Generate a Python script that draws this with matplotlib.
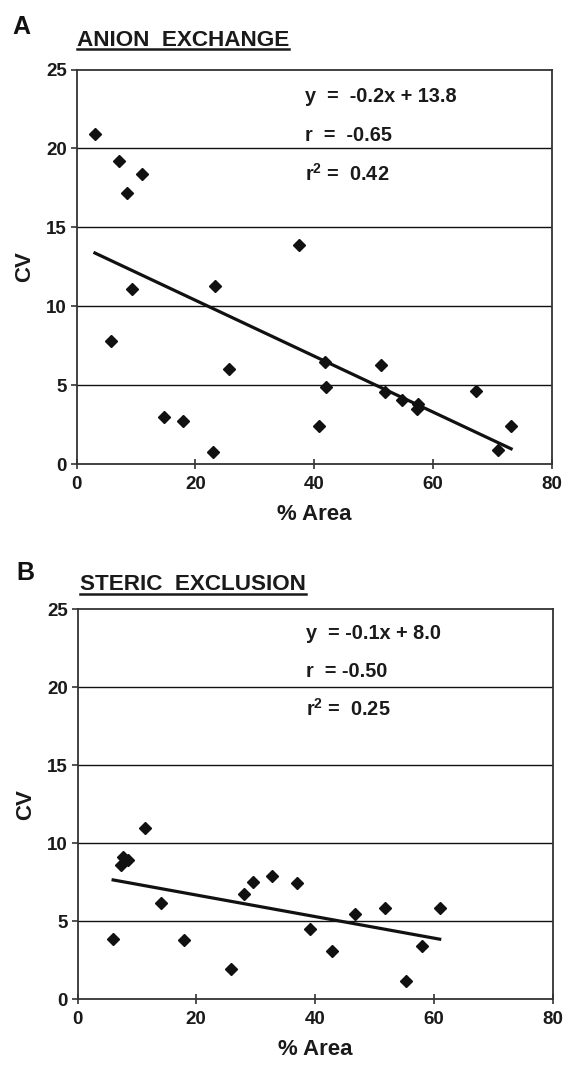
import numpy as np
import matplotlib
matplotlib.use("Agg")
import matplotlib.pyplot as plt
from matplotlib.lines import Line2D

plt.rcParams['font.family'] = ['Liberation Sans', 'DejaVu Sans']
plt.rcParams['mathtext.fontset'] = 'custom'
plt.rcParams['mathtext.rm'] = 'Liberation Sans'
plt.rcParams['mathtext.bf'] = 'Liberation Sans:bold'

# ---- data: panel A (anion exchange) ----
a_area = [3.1, 7.1, 8.5, 11.1, 9.3, 5.8, 23.4, 25.7, 14.7, 18.0, 23.0, 37.4,
          41.9, 42.1, 40.8, 51.3, 52.0, 54.9, 57.5, 57.4, 67.2, 71.0, 73.2]
a_cv = [20.9, 19.2, 17.2, 18.4, 11.1, 7.8, 11.3, 6.0, 3.0, 2.7, 0.75, 13.9,
        6.45, 4.85, 2.4, 6.25, 4.55, 4.05, 3.8, 3.5, 4.65, 0.9, 2.4]
a_fit = (-0.177, 13.92)          # slope, intercept of drawn trend line
a_title = "ANION  EXCHANGE"
a_stats = ["y  =  -0.2x + 13.8", "r  =  -0.65", r"r$^{\mathbf{2}}$ =  0.42"]

# ---- data: panel B (steric exclusion) ----
b_area = [11.4, 7.7, 8.5, 7.4, 14.1, 6.0, 18.0, 25.9, 28.0, 29.5, 32.8, 36.9,
          39.2, 42.8, 46.7, 51.8, 55.4, 58.1, 61.0]
b_cv = [11.0, 9.1, 8.9, 8.6, 6.2, 3.85, 3.8, 1.95, 6.75, 7.5, 7.9, 7.45,
        4.5, 3.1, 5.45, 5.85, 1.15, 3.4, 5.85]
b_fit = (-0.069, 8.06)
b_title = "STERIC  EXCLUSION"
b_stats = ["y  = -0.1x + 8.0", "r  = -0.50", r"r$^{\mathbf{2}}$ =  0.25"]

x_ticks = [0, 20, 40, 60, 80]
y_ticks = [0, 5, 10, 15, 20, 25]

W, H = 564, 1066
fig = plt.figure(figsize=(W / 100, H / 100), dpi=100)


def fx(px):
    return px / W


def fy(py):
    return 1 - py / H


def panel(rect_px, letter, title, xs, ys, fit, stats, stat_y, letter_px, title_px):
    l, t, r, b = rect_px
    ax = fig.add_axes([fx(l), fy(b), fx(r) - fx(l), fy(t) - fy(b)])
    ax.set_xlim(0, 80)
    ax.set_ylim(0, 25)
    ax.set_xticks(x_ticks)
    ax.set_yticks(y_ticks)
    for yv in y_ticks[1:-1]:
        ax.axhline(yv, color='#111111', lw=1.0, zorder=1)
    for s in ax.spines.values():
        s.set_color('#333333')
        s.set_linewidth(1.3)
    ax.tick_params(axis='y', direction='out', length=4, width=1.2,
                   color='#333333', labelsize=13.5, pad=3)
    ax.tick_params(axis='x', direction='inout', length=7, width=1.2,
                   color='#333333', labelsize=13.5, pad=5)
    for lab in ax.get_xticklabels() + ax.get_yticklabels():
        lab.set_fontweight('bold')
        lab.set_color('#1a1a1a')
    ax.set_xlabel("% Area", fontsize=16, fontweight='bold', color='#1a1a1a', labelpad=8)
    ax.set_ylabel("CV", fontsize=16, fontweight='bold', color='#1a1a1a', labelpad=8)
    ax.plot(xs, ys, linestyle='none', marker='D', markersize=6.5,
            color='#111111', zorder=3)
    xx = np.array([min(xs), max(xs)])
    ax.plot(xx, fit[0] * xx + fit[1], color='#111111', lw=2.3, zorder=2)
    for s, y in zip(stats, stat_y):
        ax.text(38.5, y, s, fontsize=14.3, fontweight='bold', color='#1a1a1a',
                va='center', ha='left', zorder=4)
    fig.text(fx(letter_px[0]), fy(letter_px[1]), letter, fontsize=18,
             fontweight='bold', va='baseline', ha='left', color='#111111')
    tt = fig.text(fx(title_px[0]), fy(title_px[1]), title, fontsize=16.2,
                  fontweight='bold', va='baseline', ha='left', color='#1a1a1a')
    bb_y = fy(title_px[1] + 3.8)
    return ax, tt, bb_y


axA, tA, uA = panel((76.5, 69.5, 551.5, 464), "A", a_title, a_area, a_cv, a_fit,
                    a_stats, [23.3, 20.8, 18.4], (12, 34), (77, 45.5))
axB, tB, uB = panel((77.5, 609, 552.5, 999.3), "B", b_title, b_area, b_cv, b_fit,
                    b_stats, [23.4, 21.0, 18.6], (16, 580), (80, 590))

fig.canvas.draw()
renderer = fig.canvas.get_renderer()
for tt, yline in ((tA, uA), (tB, uB)):
    bb = tt.get_window_extent(renderer).transformed(fig.transFigure.inverted())
    fig.add_artist(Line2D([bb.x0, bb.x1], [yline, yline], color='#1a1a1a',
                          lw=1.8, transform=fig.transFigure))

fig.savefig("out.png", dpi=100, facecolor='white')
